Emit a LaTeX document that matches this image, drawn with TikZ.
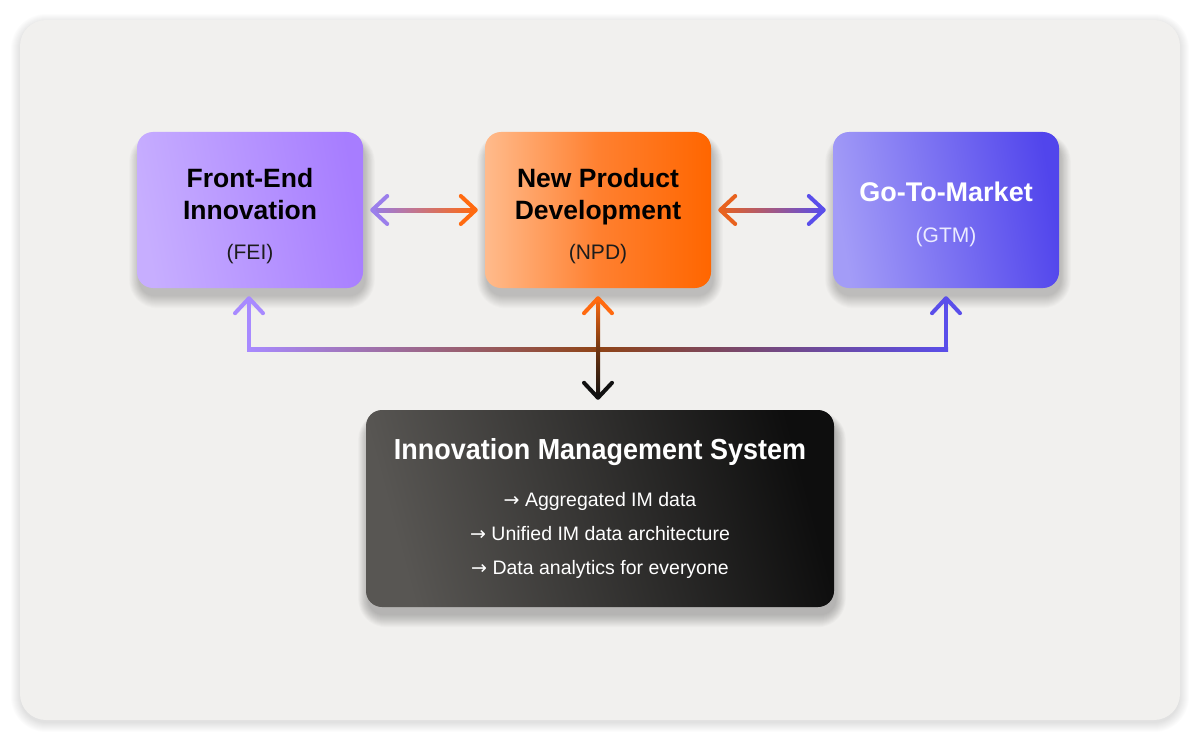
\documentclass[tikz,border=0pt]{standalone}
\usepackage{fontspec}
\setmainfont{Liberation Sans}
\newfontfamily\imstitlefont[FakeStretch=0.93]{Liberation Sans}
\newfontfamily\arrowfont{DejaVu Sans}
\usetikzlibrary{calc}
\pgfdeclarelayer{bgzero}
\pgfdeclarelayer{bgone}
\pgfsetlayers{bgzero,bgone,main}
\definecolor{cardbg}{HTML}{F1F0EE}
\definecolor{feiL}{HTML}{C7AEFF}
\definecolor{feiR}{HTML}{A77DFF}
\definecolor{npdL}{HTML}{FFBB8C}
\definecolor{npdM}{HTML}{FF8030}
\definecolor{npdR}{HTML}{FF6600}
\definecolor{gtmL}{HTML}{A39CF7}
\definecolor{gtmR}{HTML}{5145EC}
\definecolor{imsL}{HTML}{585653}
\definecolor{imsR}{HTML}{0E0E0E}
\definecolor{cPurple}{HTML}{A88AFF}
\definecolor{cOrange}{HTML}{FF6A10}
\definecolor{cOrange2}{HTML}{E8621E}
\definecolor{cBlue}{HTML}{5A4EEA}
\definecolor{cBrown}{HTML}{8F4416}
\definecolor{cBlack}{HTML}{111111}
\definecolor{subdark}{HTML}{1C1C1C}
\tikzset{
  cardbox/.style={rounded corners=26pt, fill=cardbg, minimum width=1160pt, minimum height=700pt, inner sep=0pt},
  stagebox/.style={rounded corners=16pt, minimum width=226pt, minimum height=156pt, inner sep=0pt},
  imsbox/.style={rounded corners=16pt, minimum width=468pt, minimum height=197pt, inner sep=0pt},
  titletext/.style={anchor=base, inner sep=0pt, font=\fontsize{26.5}{30}\selectfont\bfseries},
  subtext/.style={anchor=base, inner sep=0pt, font=\fontsize{21}{24}\selectfont},
  bullettext/.style={anchor=base, inner sep=0pt, font=\fontsize{19.5}{22}\selectfont, text=white},
  chev/.style={line width=4pt, line cap=round, line join=round},
}
\newcommand{\softshade}[4]{% node, steps, opacity, base radius
  \foreach \i in {0,...,#2}{
    \fill[black, opacity=#3, rounded corners={(#4+\i)*1pt}]
      ($(#1.south west)+(-0.8*\i+2,\i+8)$) rectangle ($(#1.north east)+(0.8*\i+2,-0.7*\i+10)$);
  }}
\newcommand{\bulletarrow}{{\arrowfont\fontsize{19}{20}\selectfont →}}
\begin{document}
\begin{tikzpicture}[x=1pt,y=-1pt]
\useasboundingbox (0,0) rectangle (1200,741);

% stage boxes
\node[stagebox, left color=feiL, right color=feiR, shading angle=100] (fei) at (250,210) {};
\node[stagebox, left color=npdL, right color=npdR, middle color=npdM] (npd) at (598,210) {};
\node[stagebox, left color=gtmL, right color=gtmR, shading angle=100] (gtm) at (946,210) {};
\node[imsbox, left color=imsL, right color=imsR, shading angle=105] (ims) at (600,508.5) {};

\begin{pgfonlayer}{bgzero}
  \fill[white] (0,0) rectangle (1200,741);
  \foreach \i in {0,...,9}{
    \fill[black, opacity=0.012, rounded corners={(26+\i)*1pt}]
      ($(20,20)+(-\i,-\i+3)$) rectangle ($(1180,720)+(\i,\i+3)$);
  }
  \node[cardbox] (card) at (600,370) {};
\end{pgfonlayer}
\begin{pgfonlayer}{bgone}
  \softshade{fei}{12}{0.017}{16}
  \softshade{npd}{12}{0.017}{16}
  \softshade{gtm}{12}{0.017}{16}
  \softshade{ims}{12}{0.019}{16}
\end{pgfonlayer}

% texts
\node[titletext, text=black] (feiT1) at (250,187) {Front-End};
\node[titletext, text=black] (feiT2) at (250,219) {Innovation};
\node[subtext, text=subdark] (feiS) at (250,259) {(FEI)};
\node[titletext, text=black] (npdT1) at (598,187) {New Product};
\node[titletext, text=black] (npdT2) at (598,219) {Development};
\node[subtext, text=subdark] (npdS) at (598,259) {(NPD)};
\node[titletext, text=white, font=\fontsize{27}{30}\selectfont\bfseries] (gtmT) at (946,201.5) {Go-To-Market};
\node[subtext, text=white!92!blue] (gtmS) at (946,242.5) {(GTM)};
\node[anchor=base, inner sep=0pt, text=white, font=\fontsize{29}{34}\imstitlefont\bfseries] (imsT) at (600,459.5) {Innovation Management System};
\node[bullettext] (b1) at (600,506) {\bulletarrow\ Aggregated IM data};
\node[bullettext] (b2) at (600,540) {\bulletarrow\ Unified IM data architecture};
\node[bullettext] (b3) at (600,574) {\bulletarrow\ Data analytics for everyone};

% FEI <-> NPD
\coordinate (a1L) at ($(fei.east)+(9,0)$);
\coordinate (a1R) at ($(npd.west)+(-9,0)$);
\shade[left color=cPurple!90!black, right color=cOrange] ($(a1L)+(1,-2)$) rectangle ($(a1R)+(-1,2)$);
\draw[chev, cPurple!92!black] ($(a1L)+(15,-14)$) -- (a1L) -- ($(a1L)+(15,14)$);
\draw[chev, cOrange] ($(a1R)+(-15,-14)$) -- (a1R) -- ($(a1R)+(-15,14)$);

% NPD <-> GTM
\coordinate (a2L) at ($(npd.east)+(9,0)$);
\coordinate (a2R) at ($(gtm.west)+(-9,0)$);
\shade[left color=cOrange2, right color=cBlue] ($(a2L)+(1,-2)$) rectangle ($(a2R)+(-1,2)$);
\draw[chev, cOrange2] ($(a2L)+(15,-14)$) -- (a2L) -- ($(a2L)+(15,14)$);
\draw[chev, cBlue] ($(a2R)+(-15,-14)$) -- (a2R) -- ($(a2R)+(-15,14)$);

% bottom bus
\coordinate (fU) at ($(fei.south)+(-1,10)$);
\coordinate (nU) at ($(npd.south)+(0,10)$);
\coordinate (gU) at ($(gtm.south)+(0,10)$);
\coordinate (iD) at ($(ims.north)+(-2,-12)$);
\coordinate (busL) at ($(fU)+(0,51)$);
\coordinate (busR) at ($(gU)+(0,51)$);
\shade[left color=cPurple, right color=cBlue, middle color=cBrown] ($(busL)+(-2,-2)$) rectangle ($(busR)+(2,2)$);
\fill[cPurple] ($(fU)+(-2,0)$) rectangle ($(busL)+(2,2)$);
\fill[cBlue] ($(gU)+(-2,0)$) rectangle ($(busR)+(2,2)$);
\shade[top color=cOrange, bottom color=cBlack, middle color=cBrown!80!black] ($(nU)+(-2,0)$) rectangle ($(iD)+(2,0)$);
\draw[chev, cPurple] ($(fU)+(-14,15)$) -- (fU) -- ($(fU)+(14,15)$);
\draw[chev, cOrange] ($(nU)+(-14,15)$) -- (nU) -- ($(nU)+(14,15)$);
\draw[chev, cBlue] ($(gU)+(-14,15)$) -- (gU) -- ($(gU)+(14,15)$);
\draw[chev, cBlack] ($(iD)+(-14,-15)$) -- (iD) -- ($(iD)+(14,-15)$);
\end{tikzpicture}
\end{document}
